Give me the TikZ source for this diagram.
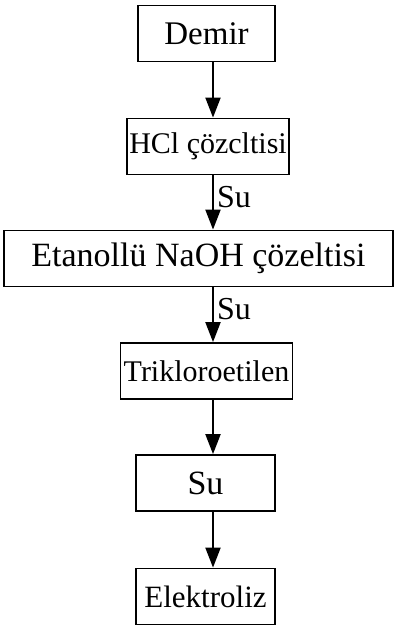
\documentclass[tikz,border=0pt]{standalone}
\usepackage{fontspec}
\setmainfont{Liberation Serif}
\usetikzlibrary{arrows.meta}
\begin{document}
\begin{tikzpicture}[x=1pt,y=-1pt,
  stage/.style={draw=black,line width=1.8pt,minimum height=56pt,inner sep=0pt,
    font=\fontsize{31}{36}\selectfont},
  flow/.style={draw=black,line width=2pt,-{Triangle[length=20pt,width=15pt]}},
  side/.style={font=\fontsize{32}{36}\selectfont,right,inner sep=3pt}]
\useasboundingbox (0,0) rectangle (396,636);
% process stages, top to bottom
\node[stage,minimum width=137pt,font=\fontsize{33}{38}\selectfont] (demir) at (206.5,33.5) {Demir};
\node[stage,minimum width=162pt,font=\fontsize{30}{35}\selectfont] (hcl) at (208,146.5) {HCl çözcltisi};
\node[stage,minimum width=389pt,font=\fontsize{34}{38}\selectfont] (naoh) at (198.5,258.5) {Etanollü NaOH çözeltisi};
\node[stage,minimum width=172pt,font=\fontsize{30}{35}\selectfont] (tri) at (206.5,371) {Trikloroetilen};
\node[stage,minimum width=139pt,font=\fontsize{34}{38}\selectfont] (su) at (205.5,483) {Su};
\node[stage,minimum width=139pt] (elek) at (205.5,596.5) {Elektroliz};
% vertical flow arrows on a common axis
\draw[flow] (demir.south -| 213,0) -- (hcl.north -| 213,0);
\draw[flow] (hcl.south -| 213,0) -- node[side,pos=0.4] (su1) {Su} (naoh.north -| 213,0);
\draw[flow] (naoh.south -| 213,0) -- node[side,pos=0.4] (su2) {Su} (tri.north -| 213,0);
\draw[flow] (tri.south -| 213,0) -- (su.north -| 213,0);
\draw[flow] (su.south -| 213,0) -- (elek.north -| 213,0);
\end{tikzpicture}
\end{document}
